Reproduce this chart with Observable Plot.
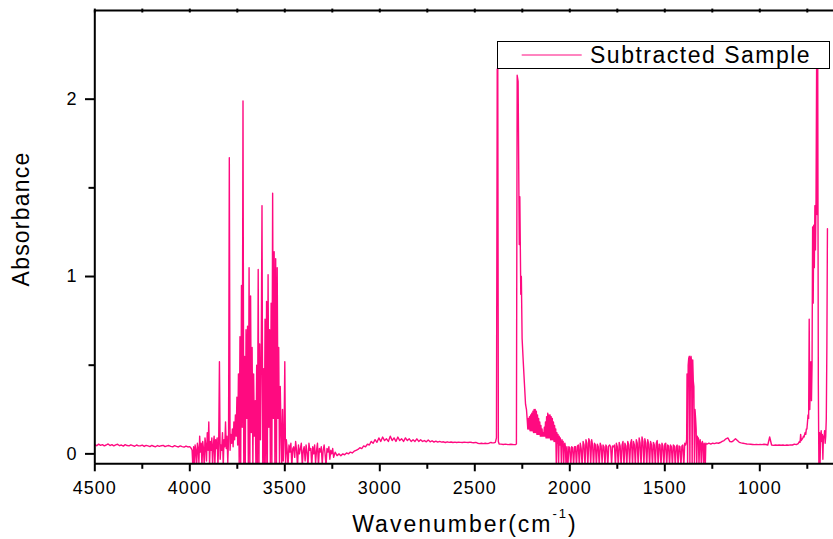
<!DOCTYPE html>
<html><head><meta charset="utf-8">
<script src="https://cdn.jsdelivr.net/npm/d3@7"></script>
<script src="https://cdn.jsdelivr.net/npm/@observablehq/plot@0.6"></script>
<style>html,body{margin:0;padding:0;background:#fff;overflow:hidden}svg{display:block}</style>
</head><body><div id="chart"></div>
<script>
const seriesName = "Subtracted Sample";
const xTitle = "Wavenumber(cm";
const yTitle = "Absorbance";
const xTickValues = [4500, 4000, 3500, 3000, 2500, 2000, 1500, 1000];
const xMinorTicks = [4250, 3750, 3250, 2750, 2250, 1750, 1250, 750];
const yTickValues = [0, 1, 2];
const yMinorTicks = [0.5, 1.5];

// absorbance segments, sampled on the spectrometer grid [start, step]
const absA = [0.052,0.046,0.055,0.048,0.052,0.045,0.050,0.056,0.047,0.052,
  0.045,0.051,0.054,0.046,0.050,0.044,0.052,0.047,0.045,0.051,
  0.047,0.043,0.050,0.045,0.046,0.049,0.042,0.048,0.045,0.041,
  0.048,0.043,0.040,0.047,0.042,0.046,0.048,0.041,0.045,0.047,
  0.042,0.040,0.046,0.042,0.039,0.045,0.041,0.038,0.044,0.039,0.041];
const absB = [0.03,0.02,-0.07,0.04,-0.07,0.05,0.02,-0.07,0.06,0.03,
  -0.05,0.10,0.01,0.06,-0.07,0.07,0.03,-0.07,0.09,0.05,
  -0.04,0.12,0.02,0.18,-0.07,0.07,0.02,0.09,-0.07,0.05,
  0.10,-0.06,0.08,0.03,0.09,-0.07,0.06,0.52,-0.03,0.05,
  0.02,0.12,-0.07,0.08,0.04,0.18,0.03,0.10,-0.05,0.09,
  1.67,0.02,0.11,0.06,0.14,0.04,0.18,0.08,0.22,0.10,
  0.32,0.05,0.45,-0.07,0.66,-0.06,0.95,0.15,1.99,-0.07,
  0.55,-0.07,0.70,0.20,0.72,-0.07,1.05,-0.07,0.89,0.12,
  0.60,-0.07,0.45,0.10,0.30,-0.07,0.50,-0.07,1.04,-0.07,
  0.62,0.08,0.55,1.40,-0.07,0.48,-0.07,0.76,-0.05,0.86,
  -0.07,1.01,0.15,0.70,-0.07,0.85,-0.07,1.47,0.20,1.14,
  -0.07,1.10,-0.07,1.05,0.20,0.60,-0.07,0.38,0.15,-0.07,
  0.25,-0.04,0.10,0.52,-0.07,0.08];
const absC = [0.03,-0.07,0.05,0.01,0.06,-0.07,0.03,0.04,-0.02,0.07,
  0.02,-0.07,0.05,0.00,0.03,0.06,-0.07,0.02,0.04,-0.04,
  0.05,0.01,-0.07,0.06,0.02,0.03,-0.07,0.04,0.00,0.05,
  -0.05,0.02,0.06,-0.07,0.03,0.01,0.04,-0.06,0.02,0.05,
  0.00,-0.07,0.03,0.01,0.04,-0.03,0.02,0.00,0.03,-0.02];
const absD = [0.01,-0.01,0.00,-0.01,0.00,-0.005,0.005,0.00,0.01,0.005,
  0.015,0.02,0.025,0.035,0.03,0.045,0.04,0.055,0.05,0.07,
  0.06,0.08,0.065,0.09,0.07,0.095,0.075,0.085,0.07,0.10,
  0.075,0.09,0.07,0.095,0.075,0.085,0.07,0.09,0.075,0.085,
  0.07,0.08,0.07,0.085,0.07,0.08,0.07,0.075,0.068,0.078,
  0.068,0.074,0.066,0.072,0.066,0.07,0.066,0.068,0.064,0.068,
  0.065,0.067,0.064,0.066,0.064,0.066,0.065,0.064,0.066,0.065,
  0.064,0.066,0.064,0.063,0.065,0.06,0.058,0.06,0.058,0.06,
  0.058,0.06,0.065];
// CO2 region, irregular points
const wnE = [2410,2400,2392,2386,2382,2379,2376,2372,2362,2350,2338,2325,2310,2295,2285,2281,2277,2272,2266,2263,2258,2255,2251,2245,2239,2233,2228];
const absE = [0.062,0.062,0.065,0.09,2.17,2.17,0.07,0.056,0.055,0.053,0.055,0.052,0.054,0.052,0.053,0.056,2.135,2.10,1.18,1.45,0.90,1.0,0.65,0.52,0.40,0.28,0.25];
const absF = [0.19,0.14,0.20,0.14,0.21,0.13,0.22,0.13,0.23,0.13,
  0.24,0.12,0.25,0.12,0.25,0.12,0.24,0.11,0.22,0.11,
  0.20,0.11,0.18,0.10,0.16,0.10,0.14,0.10,0.12,0.10,
  0.15,0.10,0.18,0.09,0.21,0.09,0.23,0.09,0.22,0.09,
  0.22,0.08,0.21,0.08,0.20,0.08,0.18,0.07,0.16,0.07,
  0.14,-0.07,0.12,0.06,0.11,-0.07,0.10,0.05,0.09,0.05,
  -0.07,0.08,0.05,0.07,-0.07,0.05,0.06,0.04,-0.07];
const absG = [0.04,-0.07,0.04,0.035,-0.07,0.04,0.035,-0.07,0.04,0.04,
  -0.07,0.045,0.05,-0.07,0.06,0.03,-0.07,0.07,0.05,-0.07,
  0.08,0.06,-0.07,0.085,0.07,-0.06,0.08,0.05,-0.07,0.06,
  0.05,-0.07,0.055,0.04,-0.07,0.06,0.045,-0.05,0.05,0.04,
  -0.07,0.05,0.04,-0.07,0.045,0.05,0.04,-0.06,0.045,0.04,
  0.05,-0.07,0.06,0.04,-0.07,0.065,0.045,-0.07,0.05,0.07,
  -0.07,0.06,0.045,-0.07,0.07,0.05,-0.06,0.06,0.08,-0.07,
  0.07,0.05,-0.07,0.08,0.06,-0.07,0.09,0.06,-0.07,0.095,
  0.07,-0.07,0.085,0.06,-0.07,0.08,0.055,-0.07,0.07,0.05,
  -0.07,0.065,0.05,-0.07,0.06,0.075,-0.07,0.055,0.05,-0.07,
  0.06,0.045,-0.07,0.055,0.06,-0.07,0.05,0.045,-0.07,0.05,
  0.04,-0.07,0.05,0.045,-0.07,0.04,0.05,-0.07,0.045,0.04,
  -0.07,0.045,0.05,-0.07,0.06,0.05,0.08];
const absH = [0.45,-0.07,0.50,0.54,0.55,-0.07,0.54,0.55,0.52,-0.07,
  0.53,0.41,0.38,-0.07,0.25,0.20,0.14,-0.07,0.10,0.07,
  0.09,-0.07,0.06,0.08,0.05,-0.07,0.06,0.07,0.04,-0.07,
  0.06,0.05,-0.07,0.06,0.055];
const absI = [0.055,0.06,0.055,0.06,0.058,0.062,0.06,0.064,0.07,0.075,
  0.085,0.09,0.07,0.068,0.075,0.085,0.075,0.065,0.062,0.06,
  0.058,0.056,0.055,0.054,0.053,0.052,0.053,0.052,0.053,0.052,
  0.054,0.053,0.05,0.095,0.05,0.048,0.05,0.049,0.05,0.049,
  0.05,0.048,0.05,0.049,0.051,0.05,0.055,0.052,0.058];
const absJ = [0.07,0.065,0.11,0.075,0.08,0.085,0.09,0.10,0.095,0.11,
  0.12,0.11,0.14,0.14,0.18,0.22,0.20,0.76,0.25,0.38,
  0.52,0.30,0.50,1.28,0.85,1.29,1.05,1.40,1.15,1.44,
  2.17,1.35,2.17,0.40,-0.07,0.12,-0.07,0.10,0.13,0.07,
  0.11,-0.03,0.10,0.09,0.13,0.06,0.10,0.20,0.60,1.27];

// [values, start wavenumber, step]
const gridSegments = [
  [absA, 4500, -10], [absB, 3992, -4], [absC, 3488, -5], [absD, 3235, -10]
];
const gridSegments2 = [
  [absF, 2224, -3], [absG, 2015, -5], [absH, 1383, -3], [absI, 1278, -10], [absJ, 791, -3]
];
const toRows = ([vals, start, step]) => vals.map((v, i) => ({wn: start + i * step, abs: v}));
const data = [
  ...gridSegments.flatMap(toRows),
  ...wnE.map((w, i) => ({wn: w, abs: absE[i]})),
  ...gridSegments2.flatMap(toRows)
];

const pink = "#ff0a80";
const yMin = -0.056, yMax = 2.5;
const chart = Plot.plot({
  width: 833, height: 539,
  marginLeft: 94, marginRight: 0, marginTop: 10, marginBottom: 75.7,
  style: {fontFamily: "'Liberation Sans', Arial, sans-serif", fontSize: "18px", color: "#000", background: "#fff"},
  x: {domain: [4500, 600], range: [94.3, 835.3]},
  y: {domain: [yMin, yMax], range: [463.3, 10]},
  marks: [
    Plot.line(data, {x: "wn", y: "abs", stroke: pink, strokeWidth: 1.4, clip: true}),
    Plot.axisX({ticks: xTickValues, tickSize: 8, tickPadding: 9, strokeWidth: 2, tickFormat: d => String(d), label: null}),
    Plot.axisX({ticks: xMinorTicks, tickSize: 5.5, strokeWidth: 2, tickFormat: () => "", label: null}),
    Plot.axisY({ticks: yTickValues, tickSize: 9, tickPadding: 9, strokeWidth: 2, tickFormat: d => String(d), label: null}),
    Plot.axisY({ticks: yMinorTicks, tickSize: 5.5, strokeWidth: 2, tickFormat: () => "", label: null}),
    Plot.ruleX([4500], {y1: yMin, y2: yMax, strokeWidth: 2}),
    Plot.ruleY([yMin], {x1: 4500, x2: 600, strokeWidth: 2}),
    Plot.ruleY([yMax], {x1: 4500, x2: 600, strokeWidth: 2}),
    Plot.ruleX([...xTickValues, ...xMinorTicks], {y1: yMax + 0.008, y2: yMax - 0.014, strokeWidth: 2})
  ]
});
document.getElementById("chart").appendChild(chart);

const svg = d3.select(chart);
svg.selectAll('[aria-label="x-axis tick label"] text').attr("letter-spacing", 1);

const font = "'Liberation Sans', Arial, sans-serif";
const xt = svg.append("text").attr("x", 465).attr("y", 532).attr("text-anchor", "middle")
  .attr("font-family", font).attr("font-size", 23).attr("letter-spacing", 2).attr("fill", "#000");
xt.append("tspan").text(xTitle);
xt.append("tspan").attr("font-size", 13).attr("dy", -14).text("-1");
xt.append("tspan").attr("dy", 14).text(")");

svg.append("text").attr("transform", "translate(29,219) rotate(-90)").attr("text-anchor", "middle")
  .attr("font-family", font).attr("font-size", 23).attr("letter-spacing", 1.2).attr("fill", "#000").text(yTitle);

const lg = svg.append("g").attr("text-anchor", "start");
lg.append("rect").attr("x", 497.5).attr("y", 41.5).attr("width", 332).attr("height", 27)
  .attr("fill", "#fff").attr("stroke", "#000").attr("stroke-width", 1);
lg.append("line").attr("x1", 521.7).attr("x2", 581.7).attr("y1", 55).attr("y2", 55)
  .attr("stroke", pink).attr("stroke-width", 1);
lg.append("text").attr("x", 590).attr("y", 63.3).attr("text-anchor", "start").attr("font-family", font).attr("font-size", 23)
  .attr("letter-spacing", 1.5).attr("fill", "#000").text(seriesName);
</script></body></html>
